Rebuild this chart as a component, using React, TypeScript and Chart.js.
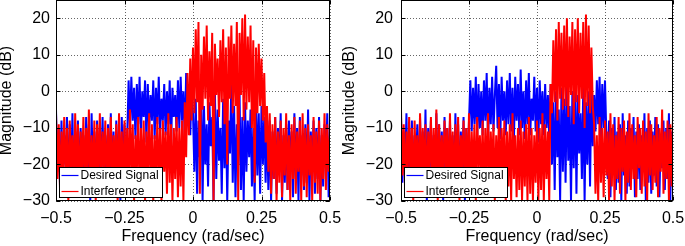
import React, { useEffect, useRef } from 'react';
import { Chart, registerables } from 'chart.js';

Chart.register(...registerables);

const X_TICKS = [-0.5, -0.25, 0, 0.25, 0.5];
const Y_TICKS = [-30, -20, -10, 0, 10, 20];
const X_MIN = -0.5;
const X_MAX = 0.5;
const Y_MIN = -30;
const Y_MAX = 25;
const SERIES_NAMES = ['Desired Signal', 'Interference'];

const LEFT_DESIRED = [
  -5, -22, -10, -27, -8, -25, -12, -20, -7, -28,
  -9, -24, -6, -29, -11, -21, -8, -26, -10, -23,
  -12, -27, -7, -22, -9, -30, -6, -24, -11, -25,
  -8, -28, -10, -21, -7, -26, -12, -23, -9, -29,
  -6, -25, -11, -27, -8, -22, -10, -30, -7, -24,
  -9, -26, -12, 3, -10, 4, -8, 1, -13, 2,
  -9, 4, -12, 0, -7, 3, -14, 2, -10, -1,
  -8, 3, -13, 1, -9, 4, -11, -2, -8, 2,
  -12, 0, -9, 3, -15, 1, -7, -1, -11, 3,
  -10, 4, -8, 0, -13, 5, -9, 2, -12, 1,
  -6, -22, -2, -28, -8, -18, 1, -30, -4, -20,
  -9, -26, -3, -15, -7, -30, 0, -24, -5, -19,
  -10, -28, -2, -21, -6, -30, -8, -17, 3, -25,
  -4, -29, -9, -20, -1, -27, -7, -30, -3, -22,
  -8, -18, -5, -26, -10, -30, -2, -23, -6, -28,
  -4, -20, -7, -25, -9, -27, -8, -30, -11, -24,
  -7, -28, -10, -22, -6, -30, -12, -25, -9, -27,
  -8, -21, -11, -29, -6, -24, -10, -30, -7, -23,
  -12, -27, -9, -25, -5, -30, -11, -22, -8, -28,
  -10, -24, -7, -30, -12, -26, -9, -21, -6, -29,
  -11,
];

const LEFT_INTERFERENCE = [
  -6, -24, -9, -28, -11, -22, -7, -26, -10, -30,
  -8, -21, -12, -27, -6, -24, -9, -29, -11, -23,
  -7, -26, -10, -22, -5, -28, -12, -25, -8, -30,
  -9, -23, -6, -27, -11, -21, -8, -29, -10, -24,
  -7, -26, -12, -22, -9, -30, -6, -25, -11, -28,
  -8, -23, -10, -27, -5, -24, -9, -30, -12, -22,
  -7, -28, -10, -25, -8, -30, -11, -23, -6, -27,
  -9, -30, -12, -24, -7, -26, -10, -30, -8, -22,
  -11, -28, -6, -25, -9, -30, -10, -24, -7, -29,
  -10, -26, -8, -30, -3, -18, 5, -12, 9, -8,
  12, -6, 17, -3, 19, -28, 10, -5, 15, -2,
  18, -8, 11, -4, 16, -30, 13, -1, 9, -7,
  14, -3, 17, -9, 12, -20, 15, -2, 18, -6,
  13, -4, 19, -30, 16, -1, 20, -8, 21, -5,
  15, -3, 18, -10, 14, -25, 12, -6, 13, -4,
  9, -8, 5, -14, -4, -22, -6, -28, -9, -24,
  -7, -30, -11, -25, -8, -29, -10, -23, -6, -27,
  -12, -30, -9, -24, -7, -28, -11, -22, -8, -30,
  -6, -26, -10, -29, -9, -23, -12, -30, -7, -25,
  -11, -28, -8, -30, -10, -24, -6, -27, -9, -22,
  -12,
];

const RIGHT_DESIRED = [
  -7, -25, -11, -22, -6, -28, -10, -24, -8, -27,
  -12, -21, -9, -29, -7, -23, -11, -26, -5, -30,
  -10, -22, -8, -27, -12, -25, -6, -28, -9, -24,
  -11, -30, -7, -21, -10, -26, -8, -23, -12, -29,
  -6, -24, -9, -27, -11, -22, -7, -30, -10, -25,
  -8, 3, -11, 1, -9, 4, -13, 2, -10, 0,
  -12, 3, -8, 5, -14, 1, -9, 4, -11, -1,
  7, -10, 2, -13, 4, -8, 0, -12, 3, -9,
  5, -11, 1, -14, 4, -8, 2, -12, 6, -10,
  0, -13, 3, -9, 5, -12, -2, -8, 4, -11,
  1, -14, 3, -9, 0, -12, 2, -10, -1, -13,
  2, -20, -3, -27, 0, -18, -5, -30, 1, -22,
  -2, -25, 3, -19, -4, -30, 0, -21, 2, -28,
  -1, -17, -6, -24, 1, -30, -3, -20, 0, -26,
  2, -15, -1, -11, 3, -9, 4, -13, 2, -10,
  3, -12, -24, -8, -29, -10, -22, -7, -27, -11,
  -25, -9, -30, -6, -23, -12, -28, -8, -26, -10,
  -21, -7, -29, -11, -24, -9, -27, -12, -22, -6,
  -30, -10, -25, -8, -28, -11, -23, -7, -26, -9,
  -29, -12, -21, -8, -27, -10, -24, -6, -30, -11,
  -25,
];

const RIGHT_INTERFERENCE = [
  -5, -23, -9, -27, -11, -21, -7, -26, -10, -30,
  -8, -22, -12, -28, -6, -25, -10, -24, -9, -29,
  -11, -21, -7, -27, -10, -24, -5, -30, -9, -23,
  -12, -26, -8, -22, -10, -29, -6, -25, -11, -28,
  -9, -24, -7, -30, -12, -22, -8, -27, -10, -25,
  -6, -28, -11, -23, -9, -30, -7, -21, -12, -26,
  -8, -29, -10, -24, -6, -27, -11, -22, -9, -30,
  -12, -25, -7, -28, -10, -23, -8, -30, -11, -26,
  -9, -30, -6, -24, -12, -29, -10, -27, -8, -30,
  -11, -26, -9, -30, -7, -28, -10, -30, -12, -25,
  -8, -30, -10, -27, -6, -30, -9, -24, -11, -30,
  2, -6, 14, -3, 17, -8, 19, -2, 16, -5,
  18, -4, 20, -7, 15, -1, 19, -9, 17, -3,
  20, -6, 16, -2, 19, -10, 21, -4, 18, -6,
  12, -4, -9, -28, -12, -30, -7, -25, -10, -29,
  -8, -23, -11, -30, -6, -26, -9, -30, -12, -24,
  -7, -28, -10, -22, -8, -30, -11, -25, -6, -27,
  -9, -24, -12, -29, -7, -21, -10, -28, -8, -26,
  -11, -30, -6, -23, -9, -27, -12, -25, -7, -29,
  -10, -22, -5, -28, -11, -24, -8, -30, -9, -26,
  -7,
];

const FONT = "'Liberation Sans', Arial, Helvetica, sans-serif";

function toPoints(vals: number[]) {
  const n = vals.length;
  return vals.map((v, i) => ({ x: X_MIN + ((X_MAX - X_MIN) * i) / (n - 1), y: v }));
}

function fmt(v: number) {
  const n = Number(v);
  if (n < 0) return '\u2212' + String(Math.abs(n));
  return String(n);
}

const framePlugin = {
  id: 'matlabFrame',
  beforeDatasetsDraw(chart: any) {
    const { ctx, chartArea } = chart;
    const { left, right, top, bottom } = chartArea;
    const xs = chart.scales.x;
    const ys = chart.scales.y;
    ctx.save();
    ctx.strokeStyle = 'rgba(0,0,0,0.6)';
    ctx.lineWidth = 1;
    ctx.setLineDash([1, 2]);
    X_TICKS.forEach((v) => {
      const px = Math.round(xs.getPixelForValue(v)) + 0.5;
      ctx.beginPath();
      ctx.moveTo(px, top);
      ctx.lineTo(px, bottom);
      ctx.stroke();
    });
    Y_TICKS.forEach((v) => {
      const py = Math.round(ys.getPixelForValue(v)) + 0.5;
      ctx.beginPath();
      ctx.moveTo(left, py);
      ctx.lineTo(right, py);
      ctx.stroke();
    });
    ctx.restore();
  },
  afterDatasetsDraw(chart: any) {
    const { ctx, chartArea } = chart;
    const { left, right, top, bottom } = chartArea;
    const xs = chart.scales.x;
    const ys = chart.scales.y;
    const L = Math.round(left) + 0.5;
    const R = Math.round(right) - 0.5;
    const T = Math.round(top) + 0.5;
    const B = Math.round(bottom) - 0.5;
    ctx.save();
    ctx.strokeStyle = '#000';
    ctx.lineWidth = 1;
    ctx.setLineDash([]);
    ctx.strokeRect(L, T, R - L, B - T);
    const tl = 4;
    X_TICKS.forEach((v) => {
      const px = Math.round(xs.getPixelForValue(v)) + 0.5;
      ctx.beginPath();
      ctx.moveTo(px, B);
      ctx.lineTo(px, B - tl);
      ctx.moveTo(px, T);
      ctx.lineTo(px, T + tl);
      ctx.stroke();
    });
    Y_TICKS.forEach((v) => {
      const py = Math.round(ys.getPixelForValue(v)) + 0.5;
      ctx.beginPath();
      ctx.moveTo(L, py);
      ctx.lineTo(L + tl, py);
      ctx.moveTo(R, py);
      ctx.lineTo(R - tl, py);
      ctx.stroke();
    });
    // legend
    const bx = L + 3;
    const by = B - 33;
    const bw = 103;
    const bh = 30;
    ctx.fillStyle = '#fff';
    ctx.fillRect(bx, by, bw, bh);
    ctx.strokeStyle = '#000';
    ctx.strokeRect(bx, by, bw, bh);
    const colors = ['#0000ff', '#ff0000'];
    ctx.font = `12px ${FONT}`;
    ctx.textBaseline = 'middle';
    ctx.textAlign = 'left';
    SERIES_NAMES.forEach((name, i) => {
      const ly = Math.round(by + 7 + i * 16) + 0.5;
      ctx.strokeStyle = colors[i];
      ctx.lineWidth = 1.2;
      ctx.beginPath();
      ctx.moveTo(bx + 2, ly);
      ctx.lineTo(bx + 19, ly);
      ctx.stroke();
      ctx.fillStyle = '#000';
      ctx.fillText(name, bx + 21, ly + 0.5);
    });
    ctx.restore();
  },
};

type PlotProps = {
  desired: number[];
  interference: number[];
  left: number;
  width: number;
  yAxisWidth: number;
  padRight: number;
  titlePad: number;
  tickPad: number;
};

function SpectrumPlot(props: PlotProps) {
  const ref = useRef<HTMLCanvasElement | null>(null);
  useEffect(() => {
    if (!ref.current) return;
    const chart = new Chart(ref.current, {
      type: 'line',
      data: {
        datasets: [
          {
            label: SERIES_NAMES[0],
            data: toPoints(props.desired),
            borderColor: '#0000ff',
            borderWidth: 2,
            pointRadius: 0,
            tension: 0,
            order: 2,
          },
          {
            label: SERIES_NAMES[1],
            data: toPoints(props.interference),
            borderColor: '#ff0000',
            borderWidth: 2,
            pointRadius: 0,
            tension: 0,
            order: 1,
          },
        ],
      },
      options: {
        animation: false,
        responsive: false,
        maintainAspectRatio: false,
        events: [],
        layout: { padding: { left: 0, right: props.padRight, top: 0, bottom: 0 } },
        plugins: {
          legend: { display: false },
          tooltip: { enabled: false },
        },
        scales: {
          x: {
            type: 'linear',
            min: X_MIN,
            max: X_MAX,
            grid: { display: false, drawTicks: false },
            border: { display: false },
            afterBuildTicks: (s: any) => {
              s.ticks = X_TICKS.map((v) => ({ value: v }));
            },
            afterFit: (s: any) => {
              s.height = 45;
              s.paddingLeft = 0;
              s.paddingRight = 0;
            },
            ticks: {
              color: '#000',
              font: { family: FONT, size: 16 },
              padding: 8,
              maxRotation: 0,
              autoSkip: false,
              callback: (v: any) => fmt(v),
            },
            title: {
              display: true,
              text: 'Frequency (rad/sec)',
              color: '#000',
              font: { family: FONT, size: 16 },
              padding: { top: 0, bottom: 0 },
            },
          },
          y: {
            type: 'linear',
            min: Y_MIN,
            max: Y_MAX,
            grid: { display: false, drawTicks: false },
            border: { display: false },
            afterBuildTicks: (s: any) => {
              s.ticks = Y_TICKS.map((v) => ({ value: v }));
            },
            afterFit: (s: any) => {
              s.width = props.yAxisWidth;
              s.paddingTop = 0;
              s.paddingBottom = 0;
            },
            ticks: {
              color: '#000',
              font: { family: FONT, size: 16 },
              padding: props.tickPad,
              autoSkip: false,
              callback: (v: any) => fmt(v),
            },
            title: {
              display: true,
              text: 'Magnitude (dB)',
              color: '#000',
              font: { family: FONT, size: 16, lineHeight: 1 },
              padding: { top: props.titlePad, bottom: 0 },
            },
          },
        },
      } as any,
      plugins: [framePlugin as any],
    });
    return () => chart.destroy();
  }, []);
  return (
    <canvas
      ref={ref}
      width={props.width}
      height={246}
      style={{ position: 'absolute', left: props.left, top: 0, width: props.width, height: 246 }}
    />
  );
}

export default function App() {
  return (
    <div style={{ position: 'absolute', left: 0, top: 0, width: 685, height: 246, background: '#fff', overflow: 'hidden' }}>
      <SpectrumPlot
        desired={LEFT_DESIRED}
        interference={LEFT_INTERFERENCE}
        left={0}
        width={350}
        yAxisWidth={56}
        padRight={20}
        titlePad={-1}
        tickPad={6}
      />
      <SpectrumPlot
        desired={RIGHT_DESIRED}
        interference={RIGHT_INTERFERENCE}
        left={340}
        width={345}
        yAxisWidth={61}
        padRight={12}
        titlePad={2}
        tickPad={8}
      />
    </div>
  );
}
